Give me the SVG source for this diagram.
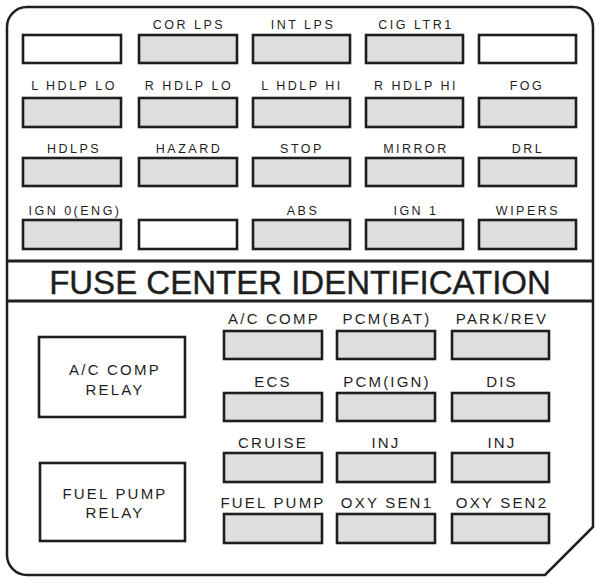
<svg xmlns="http://www.w3.org/2000/svg" width="600" height="584" viewBox="0 0 600 584">
<style>
.bg{fill:#ffffff}
.frame{fill:none;stroke:#1e1e1e;stroke-width:2.5}
.sep{stroke:#1e1e1e;stroke-width:3}
.fuse{fill:#dedede;stroke:#1e1e1e;stroke-width:2.6}
.blank{fill:#ffffff;stroke:#1e1e1e;stroke-width:2.6}
.relay{fill:#ffffff;stroke:#1e1e1e;stroke-width:2.6}
.t{font-family:"Liberation Sans",Arial,sans-serif;fill:#1e1e1e;text-anchor:middle}
.ts{font-size:12.5px;letter-spacing:2.5px}
.tb{font-size:15px;letter-spacing:2.2px}
.title{font-size:33px;letter-spacing:0px;stroke:#1e1e1e;stroke-width:0.4}
</style>
<rect class="bg" x="0" y="0" width="600" height="584"/>
<g id="frame">
<path class="frame" d="M7,27 A20,20 0 0 1 27,7 L573,7 A20,20 0 0 1 593,27 L593,527 L545,575 L27,575 A20,20 0 0 1 7,555 Z"/>
<line class="sep" x1="7" y1="261" x2="593" y2="261"/>
<line class="sep" x1="7" y1="301" x2="593" y2="301"/>
</g>
<g id="title"><text class="t title" x="300" y="294">FUSE CENTER IDENTIFICATION</text></g>

<!-- Top section row 1 -->
<g id="r1c1"><rect class="blank" x="23" y="35" width="98" height="28"/></g>
<g id="cor-lps"><text class="t ts" x="189" y="29">COR LPS</text><rect class="fuse" x="139" y="35" width="98" height="28"/></g>
<g id="int-lps"><text class="t ts" x="303" y="29">INT LPS</text><rect class="fuse" x="253" y="35" width="97" height="28"/></g>
<g id="cig-ltr1"><text class="t ts" x="416" y="29">CIG LTR1</text><rect class="fuse" x="366" y="35" width="97" height="28"/></g>
<g id="r1c5"><rect class="blank" x="479" y="35" width="97" height="28"/></g>

<!-- row 2 -->
<g id="l-hdlp-lo"><text class="t ts" x="74" y="90">L HDLP LO</text><rect class="fuse" x="23" y="98" width="98" height="29"/></g>
<g id="r-hdlp-lo"><text class="t ts" x="189" y="90">R HDLP LO</text><rect class="fuse" x="139" y="98" width="98" height="29"/></g>
<g id="l-hdlp-hi"><text class="t ts" x="302" y="90">L HDLP HI</text><rect class="fuse" x="253" y="98" width="97" height="29"/></g>
<g id="r-hdlp-hi"><text class="t ts" x="416" y="90">R HDLP HI</text><rect class="fuse" x="366" y="98" width="97" height="29"/></g>
<g id="fog"><text class="t ts" x="527" y="90">FOG</text><rect class="fuse" x="479" y="98" width="97" height="29"/></g>

<!-- row 3 -->
<g id="hdlps"><text class="t ts" x="74" y="153">HDLPS</text><rect class="fuse" x="23" y="158" width="98" height="28"/></g>
<g id="hazard"><text class="t ts" x="189" y="153">HAZARD</text><rect class="fuse" x="139" y="158" width="98" height="28"/></g>
<g id="stop"><text class="t ts" x="302" y="153">STOP</text><rect class="fuse" x="253" y="158" width="97" height="28"/></g>
<g id="mirror"><text class="t ts" x="416" y="153">MIRROR</text><rect class="fuse" x="366" y="158" width="97" height="28"/></g>
<g id="drl"><text class="t ts" x="528" y="153">DRL</text><rect class="fuse" x="479" y="158" width="97" height="28"/></g>

<!-- row 4 -->
<g id="ign0-eng"><text class="t ts" x="75" y="215">IGN 0(ENG)</text><rect class="fuse" x="23" y="220" width="98" height="29"/></g>
<g id="r4c2"><rect class="blank" x="139" y="220" width="98" height="29"/></g>
<g id="abs"><text class="t ts" x="303" y="215">ABS</text><rect class="fuse" x="253" y="220" width="97" height="29"/></g>
<g id="ign1"><text class="t ts" x="416" y="215">IGN 1</text><rect class="fuse" x="366" y="220" width="97" height="29"/></g>
<g id="wipers"><text class="t ts" x="528" y="215">WIPERS</text><rect class="fuse" x="479" y="220" width="97" height="29"/></g>

<!-- relays -->
<g id="ac-comp-relay"><rect class="relay" x="39" y="337" width="146" height="80"/><text class="t tb" x="115" y="375">A/C COMP</text><text class="t tb" x="115" y="395">RELAY</text></g>
<g id="fuel-pump-relay"><rect class="relay" x="40" y="463" width="145" height="78"/><text class="t tb" x="115" y="499">FUEL PUMP</text><text class="t tb" x="115" y="518">RELAY</text></g>

<!-- bottom fuses row 1 -->
<g id="ac-comp"><text class="t tb" x="274" y="324">A/C COMP</text><rect class="fuse" x="224" y="331" width="98" height="28"/></g>
<g id="pcm-bat"><text class="t tb" x="387" y="324">PCM(BAT)</text><rect class="fuse" x="337" y="331" width="98" height="28"/></g>
<g id="park-rev"><text class="t tb" x="502" y="324">PARK/REV</text><rect class="fuse" x="452" y="331" width="97" height="28"/></g>

<!-- row 2 -->
<g id="ecs"><text class="t tb" x="273" y="387">ECS</text><rect class="fuse" x="224" y="393" width="98" height="28"/></g>
<g id="pcm-ign"><text class="t tb" x="387" y="387">PCM(IGN)</text><rect class="fuse" x="337" y="393" width="98" height="28"/></g>
<g id="dis"><text class="t tb" x="502" y="387">DIS</text><rect class="fuse" x="452" y="393" width="97" height="28"/></g>

<!-- row 3 -->
<g id="cruise"><text class="t tb" x="273" y="448">CRUISE</text><rect class="fuse" x="224" y="453" width="98" height="29"/></g>
<g id="inj"><text class="t tb" x="386" y="448">INJ</text><rect class="fuse" x="337" y="453" width="98" height="29"/></g>
<g id="inj2"><text class="t tb" x="502" y="448">INJ</text><rect class="fuse" x="452" y="453" width="97" height="29"/></g>

<!-- row 4 -->
<g id="fuel-pump"><text class="t tb" x="273" y="508">FUEL PUMP</text><rect class="fuse" x="224" y="514" width="98" height="29"/></g>
<g id="oxy-sen1"><text class="t tb" x="387" y="508">OXY SEN1</text><rect class="fuse" x="337" y="514" width="98" height="29"/></g>
<g id="oxy-sen2"><text class="t tb" x="502" y="508">OXY SEN2</text><rect class="fuse" x="452" y="514" width="97" height="29"/></g>
</svg>
